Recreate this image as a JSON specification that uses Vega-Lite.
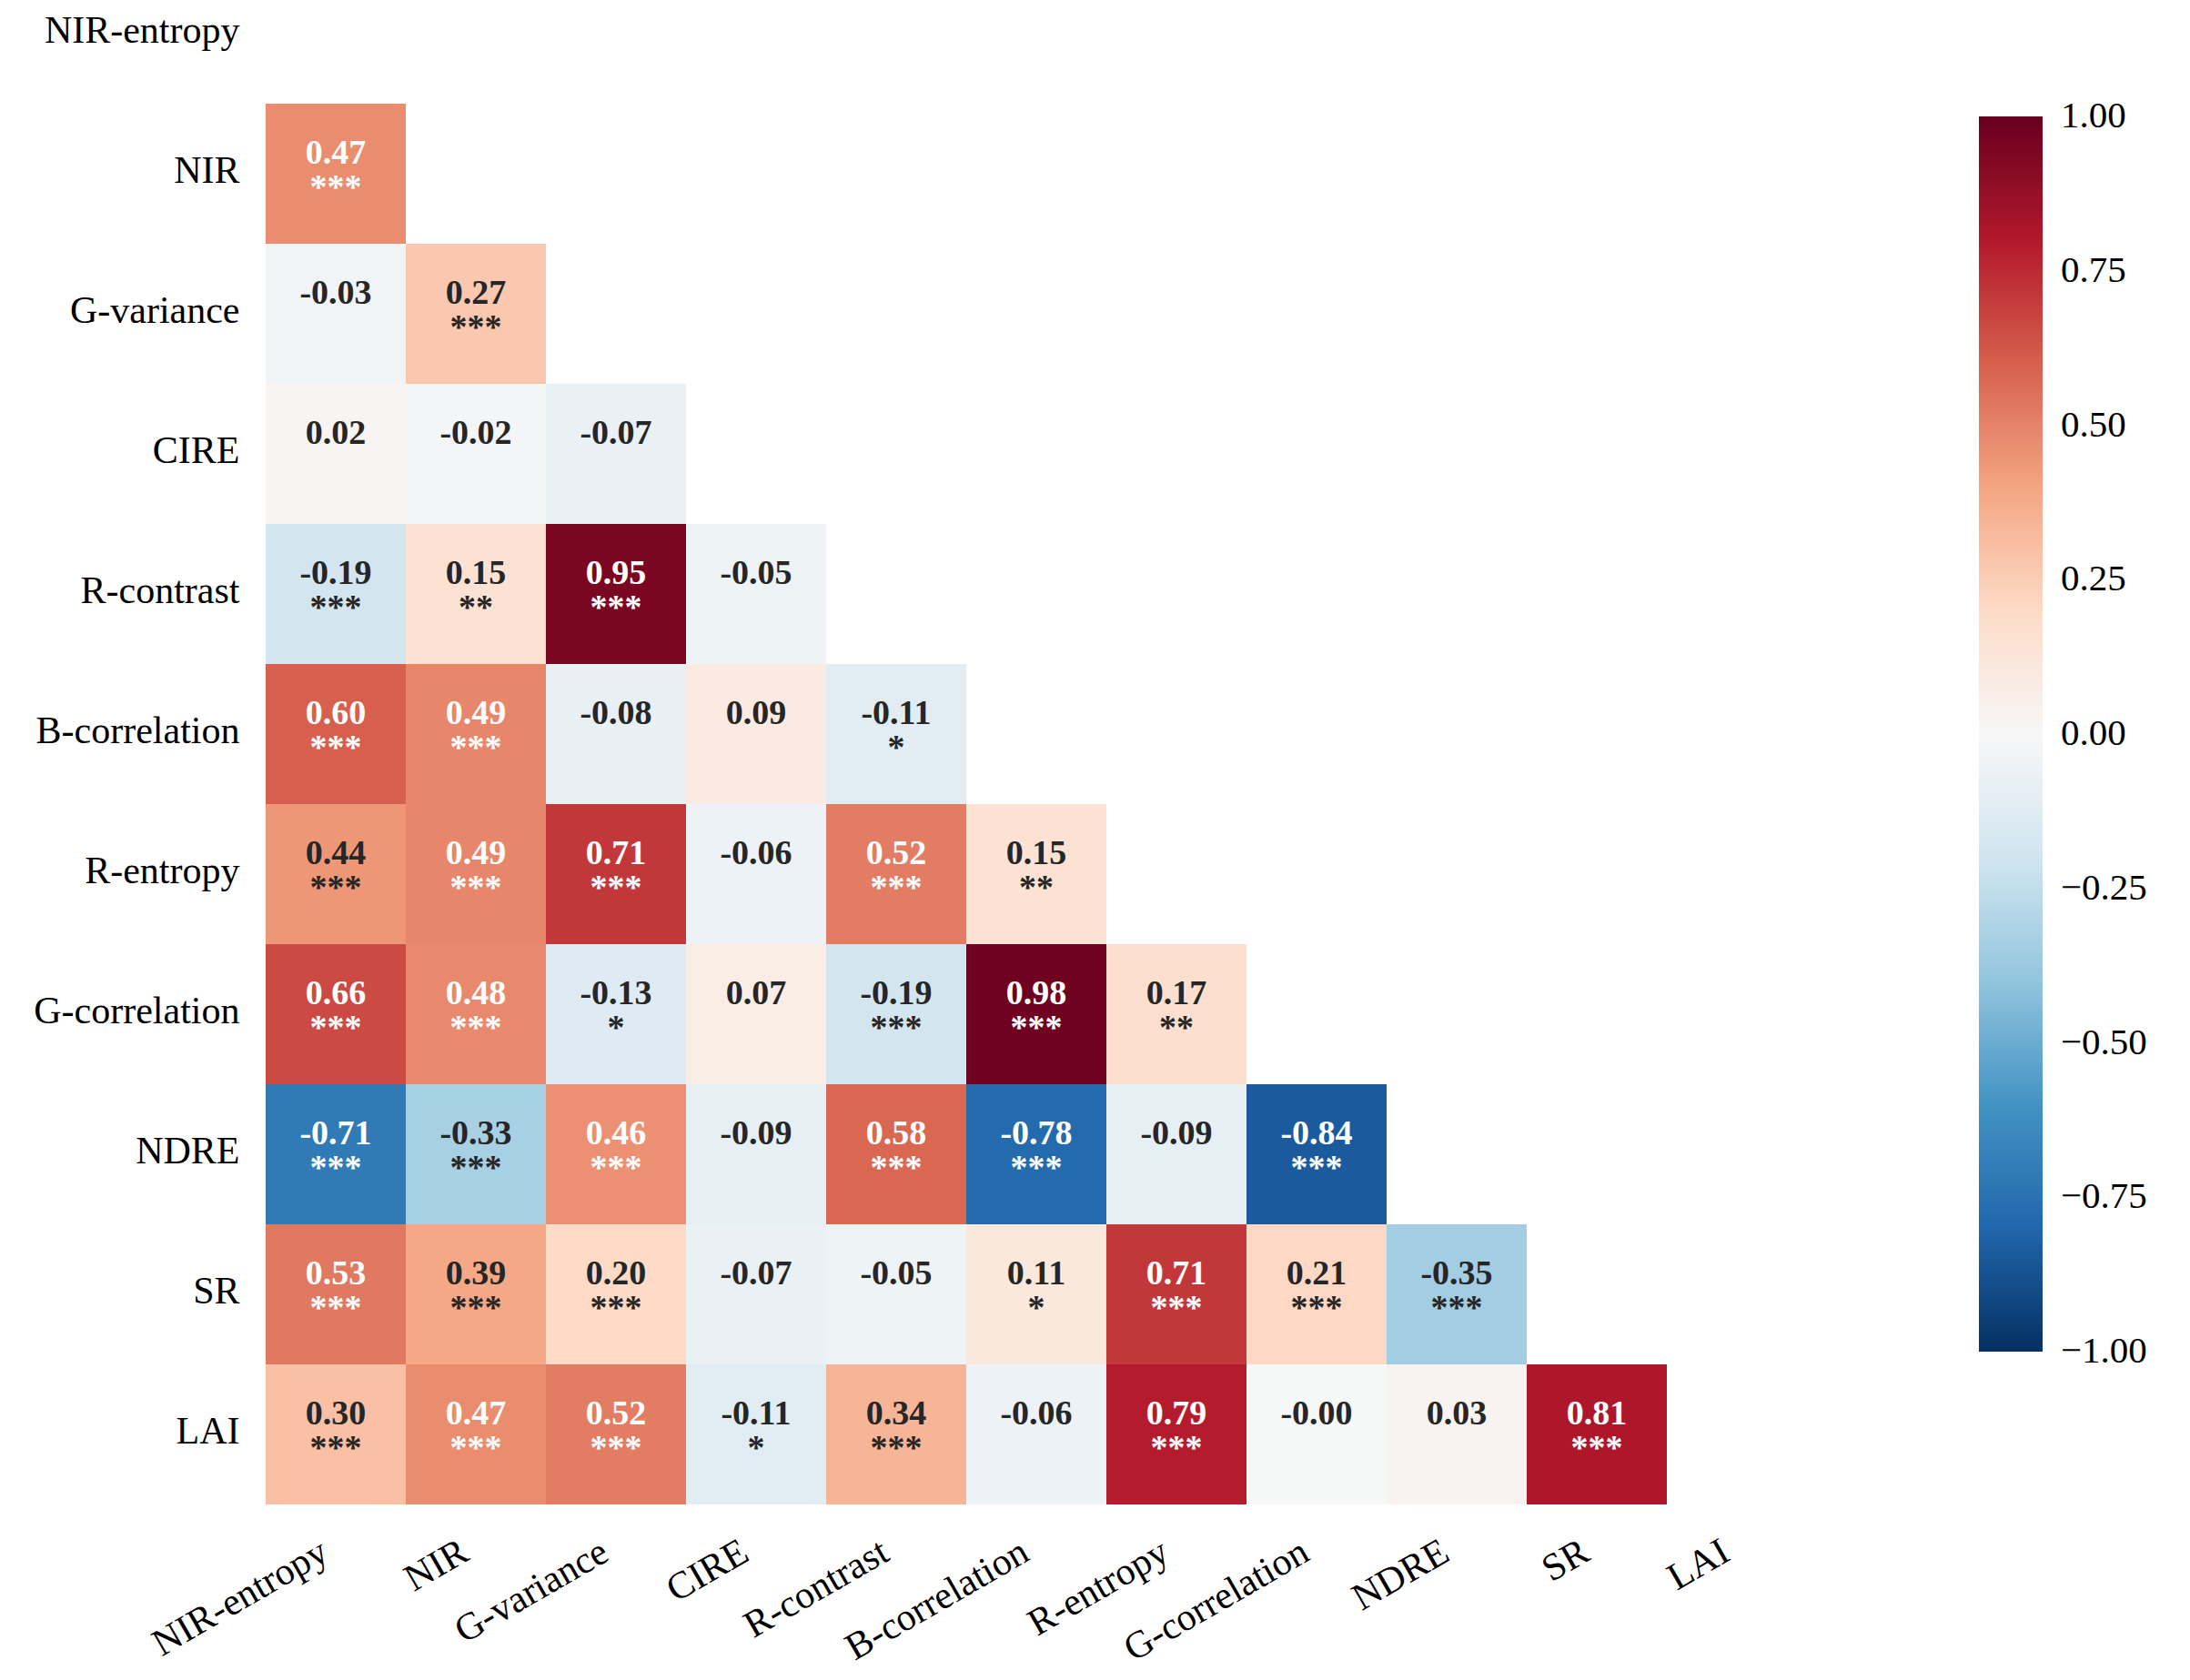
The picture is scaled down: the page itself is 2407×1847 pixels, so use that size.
{
  "$schema": "https://vega.github.io/schema/vega-lite/v6.json",
  "width": 1694,
  "height": 1654,
  "autosize": "none",
  "padding": {"left": 292, "top": 0, "right": 421, "bottom": 193},
  "background": "white",
  "config": {"view": {"stroke": null}, "font": "Liberation Serif"},
  "data": {
    "values": [
      {"row": "NIR", "col": "NIR-entropy", "r": 0.47, "label": "0.47", "sig": "***"},
      {"row": "G-variance", "col": "NIR-entropy", "r": -0.03, "label": "-0.03", "sig": ""},
      {"row": "G-variance", "col": "NIR", "r": 0.27, "label": "0.27", "sig": "***"},
      {"row": "CIRE", "col": "NIR-entropy", "r": 0.02, "label": "0.02", "sig": ""},
      {"row": "CIRE", "col": "NIR", "r": -0.02, "label": "-0.02", "sig": ""},
      {"row": "CIRE", "col": "G-variance", "r": -0.07, "label": "-0.07", "sig": ""},
      {"row": "R-contrast", "col": "NIR-entropy", "r": -0.19, "label": "-0.19", "sig": "***"},
      {"row": "R-contrast", "col": "NIR", "r": 0.15, "label": "0.15", "sig": "**"},
      {"row": "R-contrast", "col": "G-variance", "r": 0.95, "label": "0.95", "sig": "***"},
      {"row": "R-contrast", "col": "CIRE", "r": -0.05, "label": "-0.05", "sig": ""},
      {"row": "B-correlation", "col": "NIR-entropy", "r": 0.60, "label": "0.60", "sig": "***"},
      {"row": "B-correlation", "col": "NIR", "r": 0.49, "label": "0.49", "sig": "***"},
      {"row": "B-correlation", "col": "G-variance", "r": -0.08, "label": "-0.08", "sig": ""},
      {"row": "B-correlation", "col": "CIRE", "r": 0.09, "label": "0.09", "sig": ""},
      {"row": "B-correlation", "col": "R-contrast", "r": -0.11, "label": "-0.11", "sig": "*"},
      {"row": "R-entropy", "col": "NIR-entropy", "r": 0.44, "label": "0.44", "sig": "***"},
      {"row": "R-entropy", "col": "NIR", "r": 0.49, "label": "0.49", "sig": "***"},
      {"row": "R-entropy", "col": "G-variance", "r": 0.71, "label": "0.71", "sig": "***"},
      {"row": "R-entropy", "col": "CIRE", "r": -0.06, "label": "-0.06", "sig": ""},
      {"row": "R-entropy", "col": "R-contrast", "r": 0.52, "label": "0.52", "sig": "***"},
      {"row": "R-entropy", "col": "B-correlation", "r": 0.15, "label": "0.15", "sig": "**"},
      {"row": "G-correlation", "col": "NIR-entropy", "r": 0.66, "label": "0.66", "sig": "***"},
      {"row": "G-correlation", "col": "NIR", "r": 0.48, "label": "0.48", "sig": "***"},
      {"row": "G-correlation", "col": "G-variance", "r": -0.13, "label": "-0.13", "sig": "*"},
      {"row": "G-correlation", "col": "CIRE", "r": 0.07, "label": "0.07", "sig": ""},
      {"row": "G-correlation", "col": "R-contrast", "r": -0.19, "label": "-0.19", "sig": "***"},
      {"row": "G-correlation", "col": "B-correlation", "r": 0.98, "label": "0.98", "sig": "***"},
      {"row": "G-correlation", "col": "R-entropy", "r": 0.17, "label": "0.17", "sig": "**"},
      {"row": "NDRE", "col": "NIR-entropy", "r": -0.71, "label": "-0.71", "sig": "***"},
      {"row": "NDRE", "col": "NIR", "r": -0.33, "label": "-0.33", "sig": "***"},
      {"row": "NDRE", "col": "G-variance", "r": 0.46, "label": "0.46", "sig": "***"},
      {"row": "NDRE", "col": "CIRE", "r": -0.09, "label": "-0.09", "sig": ""},
      {"row": "NDRE", "col": "R-contrast", "r": 0.58, "label": "0.58", "sig": "***"},
      {"row": "NDRE", "col": "B-correlation", "r": -0.78, "label": "-0.78", "sig": "***"},
      {"row": "NDRE", "col": "R-entropy", "r": -0.09, "label": "-0.09", "sig": ""},
      {"row": "NDRE", "col": "G-correlation", "r": -0.84, "label": "-0.84", "sig": "***"},
      {"row": "SR", "col": "NIR-entropy", "r": 0.53, "label": "0.53", "sig": "***"},
      {"row": "SR", "col": "NIR", "r": 0.39, "label": "0.39", "sig": "***"},
      {"row": "SR", "col": "G-variance", "r": 0.20, "label": "0.20", "sig": "***"},
      {"row": "SR", "col": "CIRE", "r": -0.07, "label": "-0.07", "sig": ""},
      {"row": "SR", "col": "R-contrast", "r": -0.05, "label": "-0.05", "sig": ""},
      {"row": "SR", "col": "B-correlation", "r": 0.11, "label": "0.11", "sig": "*"},
      {"row": "SR", "col": "R-entropy", "r": 0.71, "label": "0.71", "sig": "***"},
      {"row": "SR", "col": "G-correlation", "r": 0.21, "label": "0.21", "sig": "***"},
      {"row": "SR", "col": "NDRE", "r": -0.35, "label": "-0.35", "sig": "***"},
      {"row": "LAI", "col": "NIR-entropy", "r": 0.30, "label": "0.30", "sig": "***"},
      {"row": "LAI", "col": "NIR", "r": 0.47, "label": "0.47", "sig": "***"},
      {"row": "LAI", "col": "G-variance", "r": 0.52, "label": "0.52", "sig": "***"},
      {"row": "LAI", "col": "CIRE", "r": -0.11, "label": "-0.11", "sig": "*"},
      {"row": "LAI", "col": "R-contrast", "r": 0.34, "label": "0.34", "sig": "***"},
      {"row": "LAI", "col": "B-correlation", "r": -0.06, "label": "-0.06", "sig": ""},
      {"row": "LAI", "col": "R-entropy", "r": 0.79, "label": "0.79", "sig": "***"},
      {"row": "LAI", "col": "G-correlation", "r": -0.004, "label": "-0.00", "sig": ""},
      {"row": "LAI", "col": "NDRE", "r": 0.03, "label": "0.03", "sig": ""},
      {"row": "LAI", "col": "SR", "r": 0.81, "label": "0.81", "sig": "***"}
    ]
  },
  "encoding": {
    "x": {
      "field": "col",
      "type": "nominal",
      "title": null,
      "scale": {
        "domain": ["NIR-entropy", "NIR", "G-variance", "CIRE", "R-contrast", "B-correlation", "R-entropy", "G-correlation", "NDRE", "SR", "LAI"],
        "paddingInner": 0,
        "paddingOuter": 0
      },
      "axis": {
        "orient": "bottom",
        "domain": false,
        "ticks": false,
        "labelAngle": -30,
        "labelAlign": "right",
        "labelBaseline": "top",
        "labelPadding": 31,
        "labelOffset": -22,
        "labelFont": "Liberation Serif",
        "labelFontSize": 42,
        "labelColor": "black",
        "labelLimit": 500
      }
    },
    "y": {
      "field": "row",
      "type": "nominal",
      "title": null,
      "scale": {
        "domain": ["NIR-entropy", "NIR", "G-variance", "CIRE", "R-contrast", "B-correlation", "R-entropy", "G-correlation", "NDRE", "SR", "LAI"],
        "range": [-40, 1654],
        "paddingInner": 0,
        "paddingOuter": 0
      },
      "axis": {
        "domain": false,
        "ticks": false,
        "labelPadding": 29,
        "labelFont": "Liberation Serif",
        "labelFontSize": 42,
        "labelColor": "black",
        "labelLimit": 500,
        "labelBaseline": "middle",
        "labelOffset": -3
      }
    }
  },
  "layer": [
    {
      "mark": {"type": "rect"},
      "encoding": {
        "color": {
          "field": "r",
          "type": "quantitative",
          "scale": {
            "domain": [-1, -0.8, -0.6, -0.4, -0.2, 0, 0.2, 0.4, 0.6, 0.8, 1],
            "range": ["#053061", "#2166ac", "#4393c3", "#92c5de", "#d1e5f0", "#f7f7f7", "#fddbc7", "#f4a582", "#d6604d", "#b2182b", "#67001f"],
            "interpolate": "rgb"
          },
          "legend": {
            "orient": "none",
            "legendX": 1883,
            "legendY": 128,
            "direction": "vertical",
            "title": null,
            "padding": 0,
            "gradientLength": 1358,
            "gradientThickness": 70,
            "gradientStrokeWidth": 0,
            "values": [-1, -0.75, -0.5, -0.25, 0, 0.25, 0.5, 0.75, 1],
            "format": ".2f",
            "labelFont": "Liberation Serif",
            "labelFontSize": 41,
            "labelColor": "black",
            "labelOffset": 20,
            "labelOverlap": false,
            "labelLimit": 300,
            "encode": {
              "labels": {
                "enter": {"baseline": {"value": "middle"}},
                "update": {"baseline": {"value": "middle"}}
              }
            }
          }
        }
      }
    },
    {
      "mark": {"type": "text", "font": "Liberation Serif", "fontSize": 38, "fontWeight": "bold", "baseline": "alphabetic", "dy": -11},
      "encoding": {
        "text": {"field": "label"},
        "color": {"condition": {"test": "datum.r >= 0.45 || datum.r <= -0.5", "value": "white"}, "value": "#262626"}
      }
    },
    {
      "mark": {"type": "text", "font": "Liberation Serif", "fontSize": 38, "fontWeight": "bold", "baseline": "alphabetic", "dy": 27},
      "encoding": {
        "text": {"field": "sig"},
        "color": {"condition": {"test": "datum.r >= 0.45 || datum.r <= -0.5", "value": "white"}, "value": "#262626"}
      }
    }
  ]
}
